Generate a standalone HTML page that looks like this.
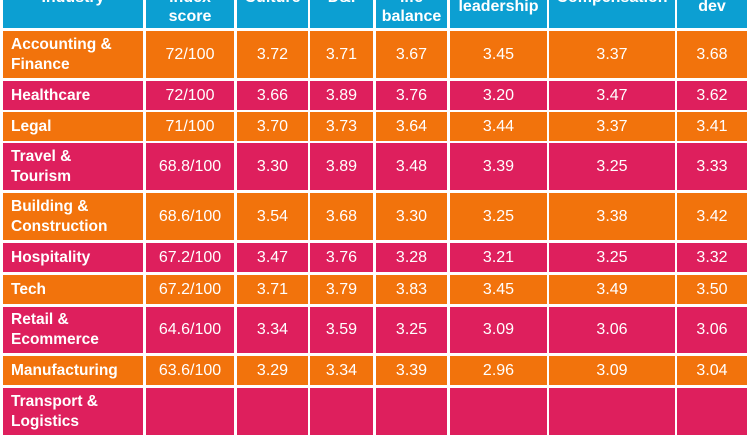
<!DOCTYPE html>
<html><head><meta charset="utf-8"><style>
body{margin:0;width:750px;height:400px;overflow:hidden;background:#fff;position:relative;font-family:"Liberation Sans",sans-serif}
.c{position:absolute;display:flex;align-items:center;justify-content:center;text-align:center;color:#fff;font-size:16px;line-height:20px;box-sizing:border-box}
.h{background:#0c9fd2;font-weight:bold;font-size:16px;line-height:19px}
.n{justify-content:flex-start;text-align:left;padding-left:8px;font-weight:bold;font-size:15.5px}
.o{background:#f2730c}.p{background:#de1f5d}
</style></head><body>
<script>
const colX=[3,146,237,310,376,450,549,677];
const colW=[140,88,71,63,71,97,126,70];
const headers=["Industry","Wellbeing<br>index<br>score","Culture","D&amp;I","Work-<br>life<br>balance","Senior<br>leadership","Compensation","Career<br>dev"];
const industries=["Accounting &amp;<br>Finance","Healthcare","Legal","Travel &amp;<br>Tourism","Building &amp;<br>Construction","Hospitality","Tech","Retail &amp;<br>Ecommerce","Manufacturing","Transport &amp;<br>Logistics"];
const scores=["72/100","72/100","71/100","68.8/100","68.6/100","67.2/100","67.2/100","64.6/100","63.6/100",""];
const culture=["3.72","3.66","3.70","3.30","3.54","3.47","3.71","3.34","3.29",""];
const dei=["3.71","3.89","3.73","3.89","3.68","3.76","3.79","3.59","3.34",""];
const wlb=["3.67","3.76","3.64","3.48","3.30","3.28","3.83","3.25","3.39",""];
const lead=["3.45","3.20","3.44","3.39","3.25","3.21","3.45","3.09","2.96",""];
const comp=["3.37","3.47","3.37","3.25","3.38","3.25","3.49","3.06","3.09",""];
const career=["3.68","3.62","3.41","3.33","3.42","3.32","3.50","3.06","3.04",""];
const rowTop=[31,81,112,143,193,243,275,307,356,388];
const rowH=[47,29,29,47,47,29,29,46,29,47];
function cell(x,y,w,h,cls,html,name){const d=document.createElement('div');d.className='c '+cls;d.style.cssText=`left:${x}px;top:${y}px;width:${w}px;height:${h}px`;d.innerHTML=html;


document.body.appendChild(d);}
headers.forEach((t,i)=>cell(colX[i],-34,colW[i],62,'h',t,'header-cell'));
const cols=[industries,scores,culture,dei,wlb,lead,comp,career];
industries.forEach((_,r)=>{const cls=r%2?'p':'o';cols.forEach((c,i)=>cell(colX[i],rowTop[r],colW[i],rowH[r],cls+(i==0?' n':''),c[r],i==0?'industry-name':'value-cell'));});
</script>
</body></html>
